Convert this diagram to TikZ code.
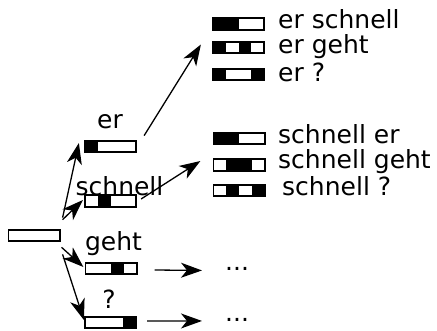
\documentclass[tikz,border=0pt]{standalone}
\usepackage{fontspec}
\setmainfont{DejaVu Sans}
\usetikzlibrary{arrows.meta,calc}
\tikzset{
  seg/.style={draw, line width=1.8pt, minimum width=51.2pt, minimum height=11.7pt, inner sep=0pt, outer sep=0pt},
  blk/.style={path picture={\foreach \i in {#1}{\fill ($(path picture bounding box.south west)!{(\i-1)/4}!(path picture bounding box.south east)$) rectangle ($(path picture bounding box.north west)!{\i/4}!(path picture bounding box.north east)$);}}},
  arr/.style={line width=1.3pt, -{Stealth[length=21pt,width=15pt,inset=6pt]}},
  lbl/.style={font=\fontsize{25}{30}\selectfont, inner sep=0pt, anchor=base},
  txt/.style={font=\fontsize{25}{30}\selectfont, inner sep=0pt, anchor=base west},
}
\begin{document}
\begin{tikzpicture}[x=1pt,y=-1pt]
\useasboundingbox (0,0) rectangle (437,330);
% root
\node[seg] (root) at (34,235.5) {};
% middle column
\node[seg,blk={1}] (er) at (110.5,146.5) {};
\node[seg,blk={2}] (sc) at (110.5,201) {};
\node[seg,blk={3}] (ge) at (111,268.5) {};
\node[seg,blk={4}] (qu) at (110.5,322.5) {};
\node[lbl] (ler) at (110,128) {er};
\node[lbl] (lsc) at (119.5,195) {schnell};
\node[lbl] (lge) at (113.5,250) {geht};
\node[lbl] (lqu) at (109,308) {?};
% top right group
\node[seg,blk={1,2}] (ra) at (238.5,24) {};
\node[seg,blk={1,3}] (rb) at (238.5,47.5) {};
\node[seg,blk={1,4}] (rc) at (238.5,74.5) {};
\node[txt] (ta) at (278,28) {er schnell};
\node[txt] (tb) at (278,53) {er geht};
\node[txt] (tc) at (278,81) {er ?};
% middle right group
\node[seg,blk={1,2}] (ma) at (239,138.5) {};
\node[seg,blk={2,3}] (mb) at (239,165) {};
\node[seg,blk={2,4}] (mc) at (239,190.5) {};
\node[txt] (sa) at (278,143) {schnell er};
\node[txt] (sb) at (278,168) {schnell geht};
\node[txt] (sc2) at (282,195) {schnell ?};
% dots
\node[txt] (d1) at (225,270) {...};
\node[txt] (d2) at (225,321) {...};
% arrows
\draw[arr] ($(root.north east)+(3,-12)$) -- ($(er.west)+(-6,-3.5)$);
\draw[arr] ($(root.north east)+(3,-10)$) -- ($(sc.west)+(-2,-1)$);
\draw[arr] ($(root.south east)+(2,6)$) -- ($(ge.west)+(-2,-1.5)$);
\draw[arr] ($(root.south east)+(3,13)$) -- ($(qu.west)+(-1,-2.5)$);
\draw[arr] ($(er.north east)+(8,-5)$) -- ($(rb.west)+(-12,-3)$);
\draw[arr] ($(sc.east)+(5,-2)$) -- ($(mb.west)+(-13,-4)$);
\draw[arr] ($(ge.east)+(18,1.5)$) -- ($(d1.west)+(-23,2)$);
\draw[arr] ($(qu.east)+(11,-1.5)$) -- ($(d2.west)+(-23,1.5)$);
\end{tikzpicture}
\end{document}
